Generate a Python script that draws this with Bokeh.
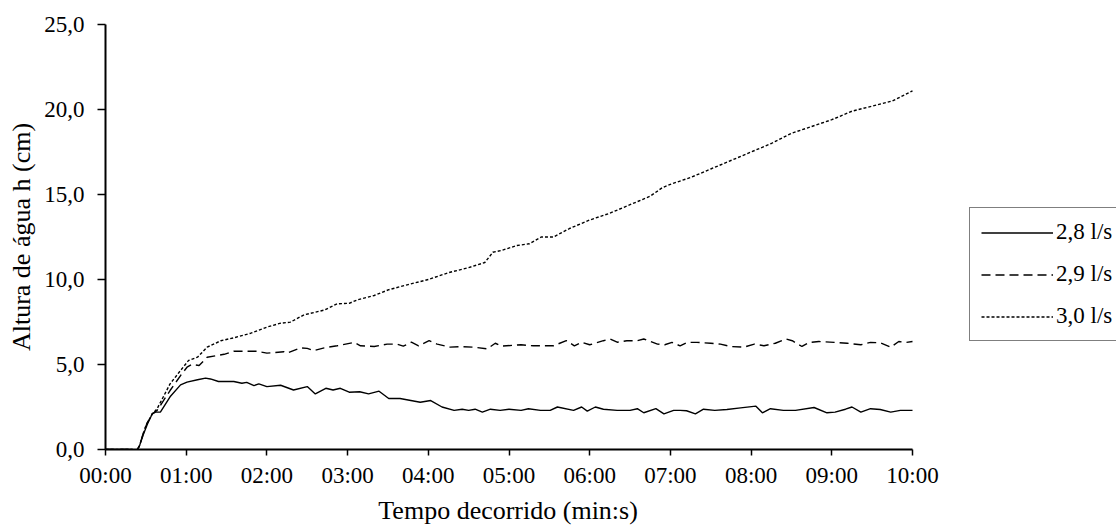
from bokeh.plotting import figure
from bokeh.models import Range1d, FixedTicker, Legend, LegendItem, Title
from bokeh.embed import file_html
from bokeh.resources import INLINE

# ---- data (time in minutes, water height in cm) ----
t_28 = [0, 0.33, 0.38, 0.42, 0.47, 0.52, 0.58, 0.62, 0.68, 0.8, 0.93, 1.01, 1.14, 1.24, 1.3, 1.4, 1.59, 1.69, 1.75, 1.84,
        1.9, 2.0, 2.17, 2.33, 2.5, 2.6, 2.73, 2.82, 2.91, 3.02, 3.15, 3.26, 3.39, 3.51, 3.65, 3.9, 4.03, 4.17, 4.32, 4.42,
        4.5, 4.58, 4.67, 4.77, 4.89, 5.0, 5.15, 5.24, 5.39, 5.51, 5.6, 5.8, 5.9, 5.97, 6.07, 6.17, 6.34, 6.5, 6.59, 6.67,
        6.82, 6.92, 7.04, 7.12, 7.2, 7.31, 7.41, 7.55, 7.7, 7.87, 8.06, 8.14, 8.24, 8.4, 8.55, 8.78, 8.94, 9.04, 9.17, 9.25,
        9.36, 9.48, 9.6, 9.73, 9.85, 10.0]
h_28 = [0, 0, -0.1, 0.2, 0.9, 1.5, 2.1, 2.2, 2.2, 3.1, 3.8, 3.96, 4.1, 4.2, 4.15, 4.0, 4.0, 3.9, 3.95, 3.76,
        3.86, 3.7, 3.78, 3.5, 3.7, 3.27, 3.6, 3.5, 3.6, 3.37, 3.4, 3.27, 3.43, 3.0, 3.0, 2.78, 2.88, 2.5, 2.3, 2.37,
        2.3, 2.37, 2.2, 2.37, 2.3, 2.37, 2.3, 2.4, 2.3, 2.3, 2.5, 2.3, 2.5, 2.26, 2.5, 2.37, 2.3, 2.3, 2.4, 2.16,
        2.4, 2.1, 2.3, 2.3, 2.28, 2.1, 2.37, 2.3, 2.35, 2.45, 2.55, 2.16, 2.4, 2.3, 2.3, 2.47, 2.16, 2.2, 2.37, 2.5,
        2.2, 2.4, 2.35, 2.2, 2.3, 2.3]

t_29 = [0, 0.33, 0.38, 0.42, 0.47, 0.52, 0.58, 0.64, 0.8, 0.93, 1.01, 1.07, 1.16, 1.26, 1.47, 1.59, 1.88, 2.0, 2.21, 2.25,
        2.42, 2.5, 2.58, 2.71, 2.87, 3.08, 3.16, 3.33, 3.49, 3.61, 3.69, 3.79, 3.88, 4.01, 4.11, 4.27, 4.4, 4.56, 4.73, 4.83,
        4.91, 5.15, 5.3, 5.55, 5.71, 5.81, 5.9, 6.0, 6.17, 6.25, 6.34, 6.46, 6.59, 6.67, 6.84, 6.93, 7.02, 7.12, 7.21, 7.33,
        7.5, 7.62, 7.74, 7.91, 8.04, 8.16, 8.3, 8.43, 8.51, 8.63, 8.72, 8.84, 9.03, 9.19, 9.36, 9.48, 9.6, 9.73, 9.83, 9.92,
        10.0]
h_29 = [0, 0, -0.1, 0.2, 1.0, 1.6, 2.1, 2.3, 3.47, 4.35, 4.84, 5.0, 4.94, 5.43, 5.6, 5.78, 5.78, 5.67, 5.75, 5.67,
        5.98, 5.95, 5.82, 5.98, 6.1, 6.3, 6.1, 6.06, 6.2, 6.2, 6.08, 6.31, 6.1, 6.4, 6.2, 6.02, 6.05, 6.02, 5.92, 6.25,
        6.08, 6.16, 6.1, 6.1, 6.4, 6.1, 6.31, 6.16, 6.4, 6.5, 6.31, 6.4, 6.4, 6.5, 6.2, 6.16, 6.3, 6.1, 6.3, 6.3,
        6.25, 6.2, 6.06, 6.02, 6.2, 6.1, 6.25, 6.5, 6.4, 6.06, 6.3, 6.35, 6.3, 6.25, 6.16, 6.3, 6.28, 6.02, 6.35, 6.3,
        6.35]

t_30 = [0, 0.33, 0.38, 0.42, 0.5, 0.58, 0.64, 0.8, 0.93, 1.03, 1.14, 1.26, 1.43, 1.59, 1.8, 2.0, 2.17, 2.29, 2.46, 2.71,
        2.87, 3.02, 3.12, 3.33, 3.51, 3.75, 4.0, 4.25, 4.5, 4.7, 4.8, 4.9, 5.1, 5.25, 5.4, 5.55, 5.75, 6.0, 6.25, 6.5,
        6.75, 6.9, 7.0, 7.25, 7.5, 7.75, 8.0, 8.25, 8.5, 8.75, 9.0, 9.25, 9.5, 9.75, 10.0]
h_30 = [0, 0, -0.1, 0.2, 1.4, 2.1, 2.4, 3.86, 4.65, 5.24, 5.43, 6.02, 6.4, 6.57, 6.84, 7.2, 7.43, 7.49, 7.92, 8.2,
        8.57, 8.6, 8.8, 9.06, 9.4, 9.7, 10.0, 10.4, 10.7, 11.0, 11.6, 11.7, 12.0, 12.1, 12.5, 12.5, 13.0, 13.5, 13.9, 14.4,
        14.9, 15.4, 15.6, 16.0, 16.5, 17.0, 17.5, 18.0, 18.6, 19.0, 19.4, 19.9, 20.2, 20.5, 21.1]

series_labels = ["2,8 l/s", "2,9 l/s", "3,0 l/s"]
x_ticks = list(range(0, 11))
x_tick_labels = ["00:00", "01:00", "02:00", "03:00", "04:00", "05:00",
                 "06:00", "07:00", "08:00", "09:00", "10:00"]
y_ticks = [0, 5, 10, 15, 20, 25]
y_tick_labels = ["0,0", "5,0", "10,0", "15,0", "20,0", "25,0"]
x_title = "Tempo decorrido (min:s)"
y_title = "Altura de água h (cm)"

FONT = "Liberation Serif"
FS_TICK = 23
FS_TITLE = 26

# frame runs to the right edge so the legend can sit inside it;
# the x axis itself is bounded to 0..10 min
AX_W = 807                  # pixel length of the 0..10 min axis
FRAME_W = 1116 - 105
x_end = 10 * FRAME_W / AX_W

p = figure(frame_width=FRAME_W, frame_height=425, output_backend="svg", toolbar_location=None,
           x_range=Range1d(0, x_end), y_range=Range1d(0, 25),
           min_border_left=105, min_border_right=0, min_border_top=24, min_border_bottom=77)
p.outline_line_color = None
p.grid.grid_line_color = None
p.background_fill_color = "white"
p.border_fill_color = "white"

r1 = p.line(t_28, h_28, line_color="black", line_width=1.4)
r2 = p.line(t_29, h_29, line_color="black", line_width=1.4, line_dash="9 5")
r3 = p.line(t_30, h_30, line_color="black", line_width=1.4, line_dash="3 2")

for ax in (p.xaxis[0], p.yaxis[0]):
    ax.axis_line_color = "black"
    ax.axis_line_width = 2
    ax.major_tick_line_color = "black"
    ax.major_tick_line_width = 1.5
    ax.major_tick_in = 0
    ax.minor_tick_line_color = None
    ax.major_label_text_font = FONT
    ax.major_label_text_font_size = f"{FS_TICK}px"
    ax.major_label_text_color = "black"
    ax.axis_label_text_font = FONT
    ax.axis_label_text_font_size = f"{FS_TITLE}px"
    ax.axis_label_text_font_style = "normal"
    ax.axis_label_text_color = "black"

p.xaxis.bounds = (0, 10)
p.xaxis.ticker = FixedTicker(ticks=x_ticks)
p.xaxis.major_label_overrides = {t: s for t, s in zip(x_ticks, x_tick_labels)}
p.xaxis.major_tick_out = 6
p.xaxis.major_label_standoff = 7

p.yaxis.ticker = FixedTicker(ticks=y_ticks)
p.yaxis.major_label_overrides = {t: s for t, s in zip(y_ticks, y_tick_labels)}
p.yaxis.major_tick_out = 8
p.yaxis.major_label_standoff = 13
p.yaxis.axis_label = y_title
p.yaxis.axis_label_standoff = 5

# x-axis title centred under the 0..10 min axis (not under the wider frame)
title_w = 10.054 * FS_TITLE
x_title_offset = AX_W / 2 - title_w / 2
p.add_layout(Title(text=x_title, align="left", offset=x_title_offset, standoff=6,
                   text_font=FONT, text_font_size=f"{FS_TITLE}px", text_font_style="normal",
                   text_color="black"), "below")

legend = Legend(items=[LegendItem(label=series_labels[0], renderers=[r1]),
                       LegendItem(label=series_labels[1], renderers=[r2]),
                       LegendItem(label=series_labels[2], renderers=[r3])],
                location=(864, 108), orientation="vertical")
legend.label_text_font = FONT
legend.label_text_font_size = f"{FS_TICK}px"
legend.label_text_color = "black"
legend.glyph_width = 72
legend.glyph_height = 23
legend.label_height = 23
legend.label_standoff = 3
legend.spacing = 16
legend.padding = 11
legend.margin = 0
legend.border_line_color = "black"
legend.border_line_width = 1.2
legend.background_fill_color = "white"
legend.background_fill_alpha = 1
p.add_layout(legend)

open("out.html", "w").write(file_html(p, INLINE))
